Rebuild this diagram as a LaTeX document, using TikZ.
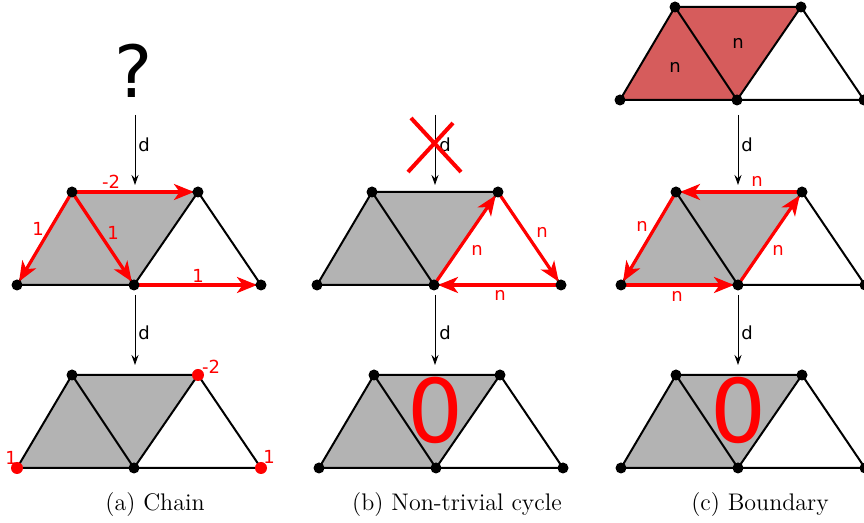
\documentclass[tikz,border=0pt]{standalone}
\usepackage{fontspec}
\newfontfamily\dejavu{DejaVu Sans}
\usetikzlibrary{arrows.meta}
\pgfdeclarelayer{fg}
\pgfsetlayers{main,fg}
\definecolor{graybg}{RGB}{179,179,179}
\definecolor{redfill}{RGB}{214,92,92}
\definecolor{pured}{RGB}{255,0,0}
\tikzset{
  dot/.style={circle,fill=black,inner sep=0pt,minimum size=5.5pt},
  rdot/.style={circle,fill=pured,inner sep=0pt,minimum size=6pt},
  edge/.style={line width=1pt,black,line join=round},
  rarrow/.style={draw=pured,line width=1.6pt,-{Stealth[length=10pt,width=8pt,inset=2.8pt]},shorten >=2pt},
  darrow/.style={line width=0.5pt,-{Stealth[length=5pt,width=3.5pt]}},
  lab/.style={font=\dejavu\fontsize{9}{10}\selectfont,text=pured,inner sep=0pt},
  dlab/.style={font=\dejavu\fontsize{9}{10}\selectfont,inner sep=0pt},
  nlab/.style={font=\dejavu\fontsize{9}{10}\selectfont,inner sep=0pt},
  bigzero/.style={font=\dejavu\fontsize{44}{48}\selectfont,text=pured,inner sep=0pt},
  caption/.style={font=\fontsize{12}{14}\selectfont,inner sep=0pt},
  cross/.style={draw=pured,line width=2pt},
  pics/strip/.style={code={
    \coordinate (-bl) at (-117,0);
    \coordinate (-tl) at (-62,-93);
    \coordinate (-tr) at (64,-93);
    \coordinate (-bm) at (0,0);
    \coordinate (-br) at (127,0);
    \fill[#1] (-bl) -- (-tl) -- (-tr) -- (-bm) -- cycle;
    \draw[edge] (-bl) -- (-tl) -- (-tr) -- (-br) -- (-bm) -- cycle;
    \draw[edge] (-tl) -- (-bm) -- (-tr);
    \begin{pgfonlayer}{fg}
      \node[dot] (-vbl) at (-bl) {};
      \node[dot] (-vtl) at (-tl) {};
      \node[dot] (-vtr) at (-tr) {};
      \node[dot] (-vbm) at (-bm) {};
      \node[dot] (-vbr) at (-br) {};
    \end{pgfonlayer}
  }}
}
\begin{document}
\begin{tikzpicture}[x=0.5pt,y=-0.5pt]
\useasboundingbox (0,0) rectangle (864,523);

% ---------- (a) Chain ----------
\node[font=\dejavu\fontsize{36}{40}\selectfont,inner sep=0pt] (qm) at (134,71) {?};
\coordinate (ad1s) at (135,115); \coordinate (ad1e) at (135,185);
\draw[darrow] (ad1s) -- (ad1e);
\node[dlab] (ad1l) at (144,145) {d};

\pic (am) at (134,285) {strip=graybg};
\draw[rarrow] (am-tl) -- (am-tr);
\draw[rarrow] (am-tl) -- (am-bl);
\draw[rarrow] (am-tl) -- (am-bm);
\draw[rarrow] (am-bm) -- (am-br);
\node[lab] (al1) at (111,182) {-2};
\node[lab] (al2) at (38,229) {1};
\node[lab] (al3) at (113,233) {1};
\node[lab] (al4) at (198,276) {1};

\coordinate (ad2s) at (135,295); \coordinate (ad2e) at (135,365);
\draw[darrow] (ad2s) -- (ad2e);
\node[dlab] (ad2l) at (144,333) {d};

\pic (ab) at (134,468) {strip=graybg};
\begin{pgfonlayer}{fg}
  \node[rdot] (ar1) at (ab-bl) {};
  \node[rdot] (ar2) at (ab-tr) {};
  \node[rdot] (ar3) at (ab-br) {};
\end{pgfonlayer}
\node[lab] (abl1) at (11,458) {1};
\node[lab] (abl2) at (211,367) {-2};
\node[lab] (abl3) at (269,457) {1};

\node[caption] (capa) at (155,505) {(a) Chain};

% ---------- (b) Non-trivial cycle ----------
\coordinate (bd1s) at (435,115); \coordinate (bd1e) at (435,185);
\draw[darrow] (bd1s) -- (bd1e);
\node[dlab] (bd1l) at (445,145) {d};
\coordinate (bx1) at (411,118); \coordinate (bx2) at (461,172);
\coordinate (bx3) at (453,123); \coordinate (bx4) at (408,172);
\draw[cross] (bx1) -- (bx2);
\draw[cross] (bx3) -- (bx4);

\pic (bm) at (434,285) {strip=graybg};
\draw[rarrow] (bm-bm) -- (bm-tr);
\draw[rarrow] (bm-tr) -- (bm-br);
\draw[rarrow] (bm-br) -- (bm-bm);
\node[lab] (bl1) at (477,250) {n};
\node[lab] (bl2) at (542,232) {n};
\node[lab] (bl3) at (500,295) {n};

\coordinate (bd2s) at (435,295); \coordinate (bd2e) at (435,365);
\draw[darrow] (bd2s) -- (bd2e);
\node[dlab] (bd2l) at (445,333) {d};

\pic (bb) at (436,468) {strip=graybg};
\node[bigzero] (bz) at (435,410) {0};

\node[caption] (capb) at (457,505) {(b) Non-trivial cycle};

% ---------- (c) Boundary ----------
\pic (ct) at (737,100) {strip=redfill};
\node[nlab] (ctl1) at (675,67) {n};
\node[nlab] (ctl2) at (738,43) {n};

\coordinate (cd1s) at (738,115); \coordinate (cd1e) at (738,185);
\draw[darrow] (cd1s) -- (cd1e);
\node[dlab] (cd1l) at (747,145) {d};

\pic (cm) at (738,285) {strip=graybg};
\draw[rarrow] (cm-tr) -- (cm-tl);
\draw[rarrow] (cm-tl) -- (cm-bl);
\draw[rarrow] (cm-bl) -- (cm-bm);
\draw[rarrow] (cm-bm) -- (cm-tr);
\node[lab] (cl1) at (757,181) {n};
\node[lab] (cl2) at (642,226) {n};
\node[lab] (cl3) at (677,296) {n};
\node[lab] (cl4) at (778,250) {n};

\coordinate (cd2s) at (738,295); \coordinate (cd2e) at (738,365);
\draw[darrow] (cd2s) -- (cd2e);
\node[dlab] (cd2l) at (747,333) {d};

\pic (cb) at (738,468) {strip=graybg};
\node[bigzero] (cz) at (738,410) {0};

\node[caption] (capc) at (760,505) {(c) Boundary};
\end{tikzpicture}
\end{document}
